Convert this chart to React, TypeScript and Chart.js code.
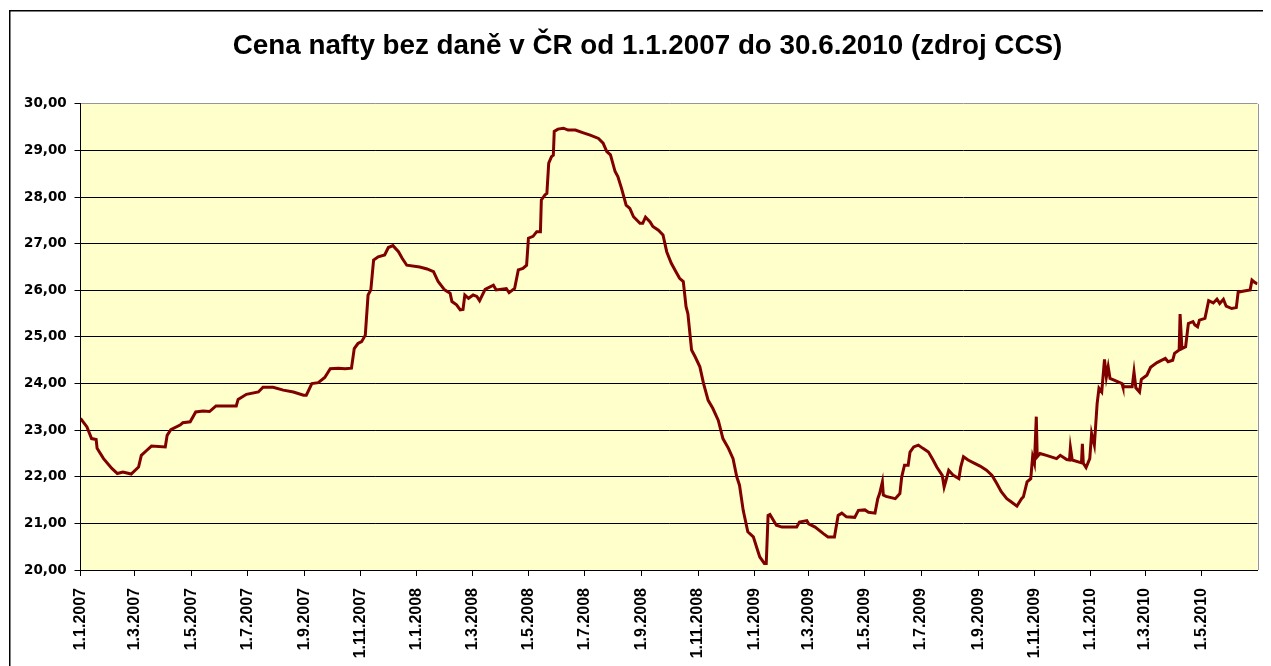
import React, { useEffect, useRef } from "react";
import { Chart, registerables } from "chart.js";

Chart.register(...registerables);

const titleText = "Cena nafty bez daně v ČR od 1.1.2007 do 30.6.2010 (zdroj CCS)";
const startDate = "1.1.2007";
const endDay = 1277;

const tickLabels = [
  "1.1.2007", "1.3.2007", "1.5.2007", "1.7.2007", "1.9.2007", "1.11.2007",
  "1.1.2008", "1.3.2008", "1.5.2008", "1.7.2008", "1.9.2008", "1.11.2008",
  "1.1.2009", "1.3.2009", "1.5.2009", "1.7.2009", "1.9.2009", "1.11.2009",
  "1.1.2010", "1.3.2010", "1.5.2010",
];

// day offset from 1.1.2007
const days = [
  0, 7, 12, 17, 18, 25, 34, 40, 46, 55, 63, 66, 72, 77, 92, 94, 98, 108, 111, 119,
  125, 133, 140, 147, 169, 171, 180, 193, 198, 209, 220, 231, 242, 245, 251, 258, 265, 271, 280, 287,
  294, 297, 301, 305, 309, 312, 315, 318, 323, 330, 334, 339, 345, 349, 354, 368, 376, 383, 388, 395,
  401, 403, 408, 412, 415, 417, 421, 426, 430, 433, 439, 448, 451, 462, 465, 471, 475, 480, 484, 486,
  491, 495, 499, 500, 504, 506, 508, 511, 513, 514, 518, 524, 529, 537, 544, 553, 562, 567, 571, 575,
  580, 583, 587, 592, 596, 600, 607, 610, 613, 618, 621, 627, 632, 636, 641, 646, 650, 654, 657, 659,
  663, 667, 672, 676, 681, 686, 692, 697, 703, 708, 712, 715, 719, 724, 730, 734, 737, 742, 744, 746,
  748, 755, 761, 777, 780, 788, 790, 797, 806, 811, 818, 822, 826, 831, 840, 844, 851, 855, 862, 865,
  867, 870, 871, 874, 884, 889, 891, 894, 898, 900, 904, 909, 914, 920, 925, 929, 935, 937, 939, 942,
  947, 953, 955, 958, 963, 969, 976, 983, 989, 994, 999, 1005, 1010, 1016, 1021, 1023, 1027, 1031, 1033, 1035,
  1037, 1038, 1041, 1048, 1059, 1063, 1070, 1073, 1074, 1076, 1086, 1087, 1088, 1091, 1095, 1097, 1100, 1103, 1105, 1108,
  1111, 1113, 1115, 1117, 1122, 1130, 1131, 1141, 1143, 1145, 1149, 1151, 1157, 1161, 1168, 1177, 1180, 1185, 1187, 1192,
  1193, 1195, 1199, 1202, 1207, 1209, 1212, 1214, 1220, 1224, 1229, 1233, 1236, 1240, 1243, 1249, 1254, 1256, 1261, 1269,
  1271, 1274, 1277,
];

const prices = [
  23.25, 23.07, 22.82, 22.80, 22.61, 22.39, 22.18, 22.07, 22.10, 22.06, 22.21, 22.46, 22.57, 22.66, 22.64, 22.89, 23.01, 23.11, 23.16, 23.18,
  23.39, 23.41, 23.40, 23.52, 23.52, 23.66, 23.77, 23.82, 23.92, 23.92, 23.86, 23.82, 23.75, 23.75, 24.00, 24.02, 24.13, 24.32, 24.33, 24.32,
  24.33, 24.75, 24.86, 24.90, 25.04, 25.90, 26.01, 26.65, 26.72, 26.76, 26.92, 26.96, 26.83, 26.69, 26.54, 26.50, 26.46, 26.40, 26.19, 26.01,
  25.94, 25.76, 25.69, 25.58, 25.59, 25.90, 25.83, 25.90, 25.87, 25.78, 26.02, 26.11, 26.01, 26.04, 25.95, 26.04, 26.44, 26.47, 26.54, 27.12,
  27.16, 27.26, 27.26, 27.94, 28.05, 28.08, 28.73, 28.87, 28.90, 29.41, 29.46, 29.48, 29.44, 29.44, 29.39, 29.33, 29.26, 29.16, 28.98, 28.91,
  28.55, 28.44, 28.19, 27.83, 27.76, 27.58, 27.44, 27.44, 27.57, 27.47, 27.37, 27.29, 27.19, 26.83, 26.58, 26.40, 26.26, 26.19, 25.65, 25.50,
  24.72, 24.57, 24.36, 24.00, 23.64, 23.47, 23.21, 22.82, 22.61, 22.39, 22.00, 21.82, 21.28, 20.82, 20.71, 20.46, 20.28, 20.14, 20.14, 21.17,
  21.19, 20.96, 20.92, 20.92, 21.03, 21.06, 20.99, 20.92, 20.78, 20.71, 20.71, 21.17, 21.22, 21.14, 21.13, 21.28, 21.29, 21.24, 21.22, 21.53,
  21.64, 21.89, 21.61, 21.58, 21.53, 21.64, 22.00, 22.25, 22.25, 22.53, 22.64, 22.68, 22.61, 22.53, 22.36, 22.21, 22.03, 21.78, 21.92, 22.14,
  22.03, 21.96, 22.21, 22.43, 22.36, 22.30, 22.23, 22.14, 22.03, 21.86, 21.68, 21.53, 21.46, 21.37, 21.53, 21.57, 21.89, 21.96, 22.43, 22.29,
  23.29, 22.43, 22.50, 22.46, 22.39, 22.46, 22.37, 22.36, 22.63, 22.36, 22.30, 22.71, 22.29, 22.20, 22.39, 22.93, 22.68, 23.57, 23.90, 23.82,
  24.52, 24.14, 24.36, 24.11, 24.07, 24.00, 23.93, 23.93, 24.25, 23.91, 23.82, 24.09, 24.18, 24.35, 24.45, 24.54, 24.47, 24.50, 24.65, 24.72,
  25.49, 24.75, 24.79, 25.29, 25.33, 25.26, 25.22, 25.36, 25.40, 25.78, 25.73, 25.81, 25.72, 25.81, 25.66, 25.61, 25.63, 25.96, 25.98, 26.01,
  26.22, 26.17, 26.14,
];

const FONT = "'Liberation Sans', Arial, sans-serif";
const Y_FONT = "'DejaVu Sans', 'Liberation Sans', Arial, sans-serif";

function dayOffset(label: string): number {
  const [d, m, y] = label.split(".").map(Number);
  const [d0, m0, y0] = startDate.split(".").map(Number);
  return Math.round((Date.UTC(y, m - 1, d) - Date.UTC(y0, m0 - 1, d0)) / 86400000);
}

const W = 1279;
const H = 700;
const PLOT_LEFT = 72.5;
const PLOT_RIGHT = 1249.5;
const PLOT_BOTTOM = 562;

export default function App() {
  const ref = useRef<HTMLCanvasElement | null>(null);

  useEffect(() => {
    document.body.style.overflow = "hidden";
    const canvas = ref.current;
    if (!canvas) return;
    const tickDays = tickLabels.map(dayOffset);
    const labelByDay = new Map<number, string>();
    tickDays.forEach((d, i) => labelByDay.set(d, tickLabels[i]));

    const bgPlugin = {
      id: "plotBg",
      beforeDraw(chart: any) {
        const { ctx, chartArea } = chart;
        ctx.save();
        ctx.fillStyle = "#FFFFCC";
        ctx.fillRect(chartArea.left, chartArea.top, chartArea.right - chartArea.left, chartArea.bottom - chartArea.top);
        ctx.restore();
      },
      afterDraw(chart: any) {
        const { ctx, chartArea } = chart;
        ctx.save();
        ctx.strokeStyle = "#969696";
        ctx.lineWidth = 1;
        ctx.beginPath();
        const r = Math.round(chartArea.right) + 0.5;
        ctx.moveTo(r, Math.round(chartArea.top));
        ctx.lineTo(r, Math.round(chartArea.bottom));
        ctx.stroke();
        ctx.strokeStyle = "#000";
        ctx.lineWidth = 1.5;
        ctx.strokeRect(1.75, 2.75, W, H);
        ctx.restore();
      },
    };

    const chart = new Chart(canvas, {
      type: "line",
      data: {
        datasets: [
          {
            data: days.map((d, i) => ({ x: d, y: prices[i] })),
            borderColor: "#800000",
            borderWidth: 3,
            pointRadius: 0,
            tension: 0,
            fill: false,
          },
        ],
      },
      options: {
        animation: false,
        responsive: false,
        devicePixelRatio: 1,
        parsing: false,
        layout: { padding: 0 },
        plugins: {
          legend: { display: false },
          tooltip: { enabled: false },
          title: {
            display: true,
            text: titleText,
            color: "#000",
            font: { family: FONT, size: 27.8, weight: "bold" },
            padding: { top: 22.1, bottom: 40.5 },
          },
        },
        scales: {
          x: {
            type: "linear",
            min: 0,
            max: endDay,
            afterBuildTicks(scale: any) {
              scale.ticks = tickDays.map((v) => ({ value: v }));
            },
            afterFit(scale: any) {
              scale.height = H - PLOT_BOTTOM;
            },
            grid: {
              display: true,
              drawOnChartArea: false,
              drawTicks: true,
              tickLength: 6,
              tickColor: "#000",
            },
            border: { display: true, color: "#000", width: 1 },
            ticks: {
              autoSkip: false,
              maxRotation: 90,
              minRotation: 90,
              padding: 12,
              color: "#000",
              font: { family: FONT, size: 16, weight: "bold" },
              callback: (v: any) => labelByDay.get(Number(v)) ?? "",
            },
          },
          y: {
            type: "linear",
            min: 20,
            max: 30,
            afterFit(scale: any) {
              scale.width = PLOT_LEFT;
            },
            grid: {
              color: (c: any) => (c.tick && c.tick.value === 30 ? "#969696" : "#000"),
              lineWidth: 1,
              drawTicks: true,
              tickLength: 6,
              tickColor: "#000",
            },
            border: { display: true, color: "#000", width: 1 },
            ticks: {
              stepSize: 1,
              padding: 7.8,
              color: "#000",
              font: { family: Y_FONT, size: 13.5, weight: "bold" },
              callback: (v: any) => Number(v).toFixed(2).replace(".", ","),
            },
          },
          ySpacer: {
            type: "linear",
            position: "right",
            display: true,
            min: 20,
            max: 30,
            grid: { display: false, drawTicks: false },
            border: { display: false },
            ticks: { display: false },
            afterFit(scale: any) {
              scale.width = W - PLOT_RIGHT;
            },
          },
        },
      },
      plugins: [bgPlugin],
    } as any);

    return () => chart.destroy();
  }, []);

  return (
    <div style={{ width: 1263, height: 658, overflow: "hidden" }}>
      <canvas ref={ref} width={W} height={H} style={{ display: "block", width: W, height: H }} />
    </div>
  );
}
